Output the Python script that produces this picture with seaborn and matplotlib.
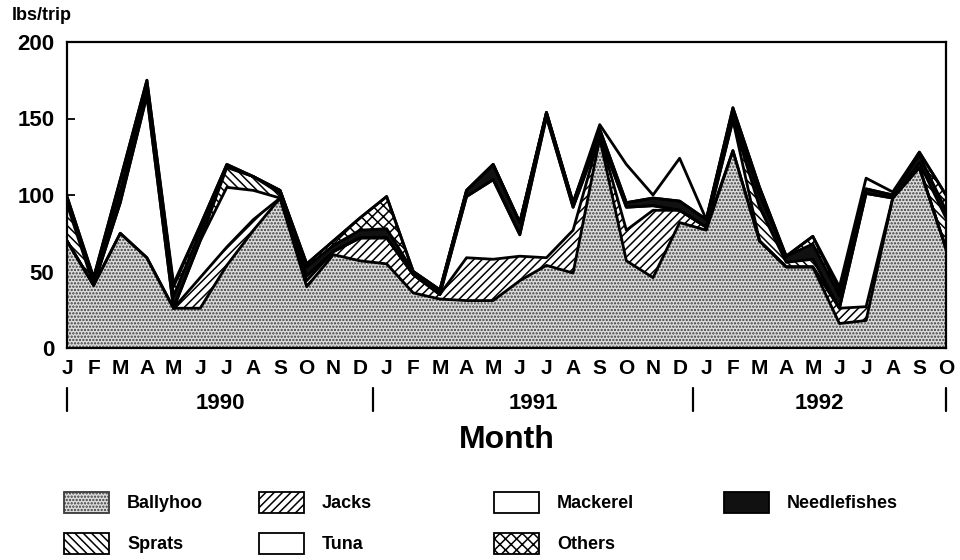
import matplotlib
matplotlib.use("Agg")
import matplotlib.pyplot as plt
import matplotlib.transforms as mtransforms
from matplotlib.patches import Patch
import numpy as np
import pandas as pd
import seaborn as sns

sns.set_theme(style="white")
plt.rcParams["font.family"] = ["Liberation Sans", "DejaVu Sans"]
plt.rcParams["font.weight"] = "bold"
plt.rcParams["hatch.linewidth"] = 1.1
plt.rcParams["text.color"] = "black"
plt.rcParams["xtick.color"] = "black"
plt.rcParams["ytick.color"] = "black"

# ---- data (lbs/trip, Jan 1990 - Oct 1992) ----
month_letters = list("JFMAMJJASOND") * 2 + list("JFMAMJJASO")
years = ["1990", "1991", "1992"]

ballyhoo = [70, 41, 75, 59, 26, 26, 54, 77, 98, 40, 61, 57,
            55, 36, 32, 31, 31, 44, 54, 49, 137, 57, 46, 82,
            77, 129, 70, 53, 53, 16, 18, 98, 118, 65]
jacks = [0, 0, 0, 0, 0, 20, 12, 7, 0, 4, 2, 15,
         17, 12, 3, 28, 27, 16, 5, 28, 2, 20, 44, 8,
         2, 0, 0, 0, 0, 10, 9, 0, 0, 0]
tuna = [0, 0, 20, 106, 0, 24, 39, 19, 0, 3, 0, 0,
        0, 0, 0, 40, 52, 14, 92, 15, 0, 15, 3, 0,
        0, 20, 0, 0, 0, 0, 74, 0, 0, 0]
sprats = [24, 0, 0, 0, 0, 0, 13, 9, 3, 0, 0, 0,
          0, 0, 0, 0, 0, 0, 0, 0, 0, 0, 0, 0,
          0, 0, 22, 3, 5, 0, 0, 0, 3, 20]
needlefishes = [3, 3, 8, 5, 8, 6, 1, 0, 2, 6, 4, 5,
                6, 2, 3, 4, 10, 8, 3, 3, 4, 3, 5, 6,
                5, 5, 8, 4, 10, 8, 3, 2, 5, 5]
others = [2, 2, 7, 5, 6, 4, 1, 0, 0, 2, 3, 8,
          21, 0, 0, 0, 0, 0, 0, 0, 0, 0, 0, 0,
          0, 3, 5, 0, 5, 3, 0, 0, 2, 10]
mackerel = [0, 0, 0, 0, 2, 0, 0, 0, 0, 0, 0, 0,
            0, 0, 0, 0, 0, 0, 0, 0, 3, 25, 2, 28,
            0, 0, 0, 0, 0, 3, 7, 2, 0, 0]

df = pd.DataFrame({
    "Ballyhoo": ballyhoo,
    "Jacks": jacks,
    "Tuna": tuna,
    "Sprats": sprats,
    "Needlefishes": needlefishes,
    "Others": others,
    "Mackerel": mackerel,
})
df["month"] = np.arange(len(df))
order = ["Ballyhoo", "Jacks", "Tuna", "Sprats", "Needlefishes", "Others", "Mackerel"]
cum = df[order].cumsum(axis=1)

# fill style per species: (face, hatch, hatch colour)
styles = {
    "Ballyhoo": ("#dcdcdc", ".....", "#3a3a3a"),
    "Jacks": ("white", "////", "black"),
    "Sprats": ("white", "\\\\\\\\", "black"),
    "Tuna": ("white", None, "black"),
    "Mackerel": ("white", None, "black"),
    "Needlefishes": ("#111111", None, "#111111"),
    "Others": ("white", "xxx", "black"),
}

fig = plt.figure(figsize=(9.6, 5.6), dpi=100)
ax = fig.add_axes([67 / 960, 1 - 348 / 560, 879 / 960, 306 / 560])

x = df["month"]
lower = np.zeros(len(df))
for name in order:
    fc, h, hc = styles[name]
    ax.fill_between(x, lower, cum[name], facecolor=fc, hatch=h,
                    edgecolor=hc, linewidth=0, zorder=1)
    lower = cum[name].values

# outlines of each stacked layer
for name in order:
    sns.lineplot(x=x, y=cum[name], color="black", linewidth=2.0, ax=ax, zorder=3)

ax.set_xlim(0, 33)
ax.set_ylim(0, 200)
ax.set_xlabel("")
ax.set_ylabel("")
ax.set_xticks(x)
ax.set_xticklabels(month_letters, fontsize=15, fontweight="bold")
ax.set_yticks([0, 50, 100, 150, 200])
ax.set_yticklabels(["0", "50", "100", "150", "200"], fontsize=16, fontweight="bold")
ax.tick_params(axis="x", direction="in", length=6, width=1.3, pad=8, colors="black", bottom=True)
ax.tick_params(axis="y", direction="in", length=6, width=1.3, pad=9, colors="black", left=True)
for s in ax.spines.values():
    s.set_color("black")
    s.set_linewidth(1.6)

# year separators and labels under the month letters
trans = mtransforms.blended_transform_factory(ax.transData, ax.transAxes)
for sep in [0, 11.5, 23.5, 33]:
    ax.plot([sep, sep], [-0.13, -0.205], color="black", lw=1.6,
            transform=trans, clip_on=False)
for xc, yr in zip([5.75, 17.5, 28.25], years):
    ax.text(xc, -0.18, yr, transform=trans, ha="center", va="center",
            fontsize=16, fontweight="bold", color="black")

ax.text(0.5, -0.30, "Month", transform=ax.transAxes, ha="center", va="center",
        fontsize=23, fontweight="bold", color="black")
ax.text(-0.063, 1.088, "lbs/trip", transform=ax.transAxes, ha="left", va="center",
        fontsize=13, fontweight="bold", color="black")

# legend: four columns placed like the original
def handle(name):
    fc, h, hc = styles[name]
    return Patch(facecolor=fc, hatch=h, edgecolor="black" if name != "Ballyhoo" else hc,
                 linewidth=1.3, label=name)

columns = [(["Ballyhoo", "Sprats"], 64), (["Jacks", "Tuna"], 259),
           (["Mackerel", "Others"], 494), (["Needlefishes"], 724)]
for names, xpix in columns:
    leg = fig.legend(handles=[handle(n) for n in names], loc="upper left",
                     bbox_to_anchor=(xpix / 960, 1 - 492 / 560), frameon=False,
                     handlelength=2.5, handleheight=1.4, handletextpad=1.0,
                     labelspacing=1.1, borderpad=0, borderaxespad=0,
                     prop={"size": 13, "weight": "bold"}, labelcolor="black")

fig.savefig("out.png", dpi=100, facecolor="white")
